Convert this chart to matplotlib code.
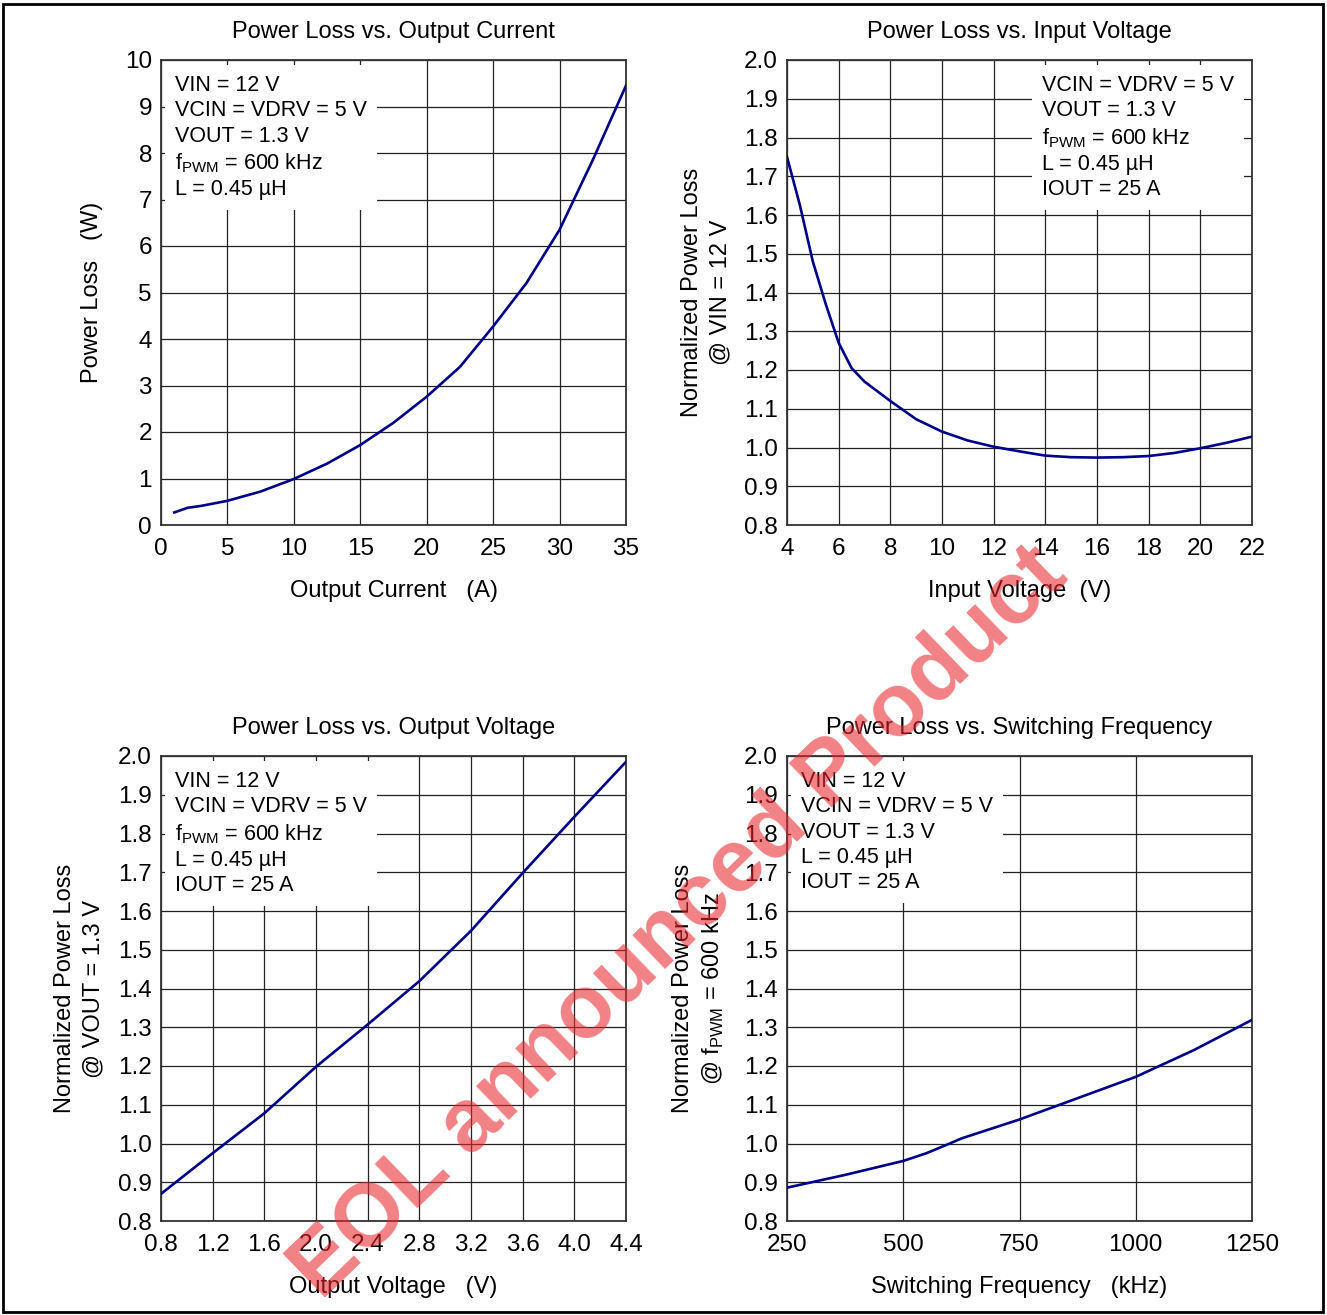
import numpy as np
import matplotlib
matplotlib.use("Agg")
import matplotlib.pyplot as plt
from matplotlib.patches import Rectangle

plt.rcParams['font.family'] = ['Liberation Sans', 'DejaVu Sans']
plt.rcParams['mathtext.fontset'] = 'custom'
plt.rcParams['mathtext.rm'] = 'Liberation Sans'
plt.rcParams['font.size'] = 17

# --- data ---
iout_a = [1, 2, 3, 5, 7.5, 10, 12.5, 15, 17.5, 20, 22.5, 25, 27.5, 30, 32.5, 35]
loss_w = [0.27, 0.37, 0.41, 0.52, 0.72, 0.99, 1.32, 1.72, 2.2, 2.76, 3.4, 4.27, 5.2, 6.35, 7.85, 9.45]

vin_v = [4, 4.5, 5, 5.5, 6, 6.5, 7, 7.5, 8, 9, 10, 11, 12, 13, 14, 15, 16, 17, 18, 19, 20, 21, 22]
norm_vin = [1.75, 1.625, 1.48, 1.37, 1.27, 1.205, 1.17, 1.145, 1.12, 1.073, 1.041, 1.018, 1.002,
            0.99, 0.979, 0.975, 0.974, 0.975, 0.978, 0.986, 0.998, 1.012, 1.028]

vout_v = [0.8, 1.2, 1.6, 2.0, 2.4, 2.8, 3.2, 3.6, 4.0, 4.4]
norm_vout = [0.87, 0.975, 1.078, 1.198, 1.307, 1.419, 1.549, 1.698, 1.843, 1.985]

fsw_khz = [250, 375, 500, 550, 600, 625, 750, 875, 1000, 1125, 1250]
norm_fsw = [0.886, 0.919, 0.955, 0.975, 1.0, 1.013, 1.062, 1.117, 1.172, 1.241, 1.319]

# --- labels ---
titles = ["Power Loss vs. Output Current", "Power Loss vs. Input Voltage",
          "Power Loss vs. Output Voltage", "Power Loss vs. Switching Frequency"]
xlabels = ["Output Current   (A)", "Input Voltage  (V)",
           "Output Voltage   (V)", "Switching Frequency   (kHz)"]
ylabels = ["Power Loss   (W)", "Normalized Power Loss\n@ VIN = 12 V",
           "Normalized Power Loss\n@ VOUT = 1.3 V",
           "Normalized Power Loss\n@ f$_{\\mathregular{PWM}}$ = 600 kHz"]

fpwm = "f$_{\\mathregular{PWM}}$ = 600 kHz"
notes = [
    ["VIN = 12 V", "VCIN = VDRV = 5 V", "VOUT = 1.3 V", fpwm, "L = 0.45 µH"],
    ["VCIN = VDRV = 5 V", "VOUT = 1.3 V", fpwm, "L = 0.45 µH", "IOUT = 25 A"],
    ["VIN = 12 V", "VCIN = VDRV = 5 V", fpwm, "L = 0.45 µH", "IOUT = 25 A"],
    ["VIN = 12 V", "VCIN = VDRV = 5 V", "VOUT = 1.3 V", "L = 0.45 µH", "IOUT = 25 A"],
]

norm_ticks = np.round(np.arange(0.8, 2.01, 0.1), 1)
xticks = [np.arange(0, 36, 5), np.arange(4, 23, 2), np.round(np.arange(0.8, 4.41, 0.4), 1),
          [250, 500, 750, 1000, 1250]]
xlims = [(0, 35), (4, 22), (0.8, 4.4), (250, 1250)]
yticks = [np.arange(0, 11, 1), norm_ticks, norm_ticks, norm_ticks]
ylims = [(0, 10), (0.8, 2.0), (0.8, 2.0), (0.8, 2.0)]
xfmt = ["{:.0f}", "{:.0f}", "{:.1f}", "{:.0f}"]
yfmt = ["{:.0f}", "{:.1f}", "{:.1f}", "{:.1f}"]
series = [(iout_a, loss_w), (vin_v, norm_vin), (vout_v, norm_vout), (fsw_khz, norm_fsw)]

W, H = 1327, 1315
fig = plt.figure(figsize=(W / 100, H / 100), dpi=100)

# axes boxes in pixels (left, top)
boxes = [(161, 60), (787, 60), (161, 756), (787, 756)]
size = 465
note_x = [0.030, 0.548, 0.030, 0.030]
ylab_x = [-0.148, -0.174, -0.176, -0.189]

for i in range(4):
    lx, ty = boxes[i]
    ax = fig.add_axes([lx / W, 1 - (ty + size) / H, size / W, size / H])
    x, y = series[i]
    ax.plot(x, y, color='#000088', lw=1.9, zorder=3)
    ax.set_xlim(*xlims[i])
    ax.set_ylim(*ylims[i])
    ax.set_xticks(xticks[i])
    ax.set_xticklabels([xfmt[i].format(v) for v in xticks[i]])
    ax.set_yticks(yticks[i])
    ax.set_yticklabels([yfmt[i].format(v) for v in yticks[i]])
    ax.tick_params(length=0, labelsize=17.5)
    ax.tick_params(axis='x', pad=9.5)
    ax.tick_params(axis='y', pad=6.5)
    ax.grid(True, color='#222222', lw=0.9, zorder=1)
    ax.set_axisbelow(True)
    for s in ax.spines.values():
        s.set_color('#333333')
        s.set_linewidth(1.3)
    ax.set_title(titles[i], fontsize=17, pad=15.5)
    ax.set_xlabel(xlabels[i], fontsize=17, va='center')
    ax.xaxis.set_label_coords(0.5, -0.142)
    ax.set_ylabel(ylabels[i], fontsize=17, va='center', linespacing=1.35)
    ax.yaxis.set_label_coords(ylab_x[i], 0.5)
    ax.text(note_x[i], 0.968, "\n".join(notes[i]), transform=ax.transAxes,
            ha='left', va='top', fontsize=15.5, linespacing=1.27, zorder=4,
            bbox=dict(boxstyle='square,pad=0.45', facecolor='white', edgecolor='none'))

# watermark
fig.text(0.512, 0.298, "EOL announced Product", rotation=44, ha='center', va='center',
         rotation_mode='anchor', fontsize=64, fontweight='bold', color='#e8262e', alpha=0.58,
         zorder=10)

# outer frame
fig.patches.append(Rectangle((3 / W, 3 / H), 1 - 7 / W, 1 - 7 / H, transform=fig.transFigure,
                             fill=False, edgecolor='black', lw=2))

fig.savefig("out.png", dpi=100)
